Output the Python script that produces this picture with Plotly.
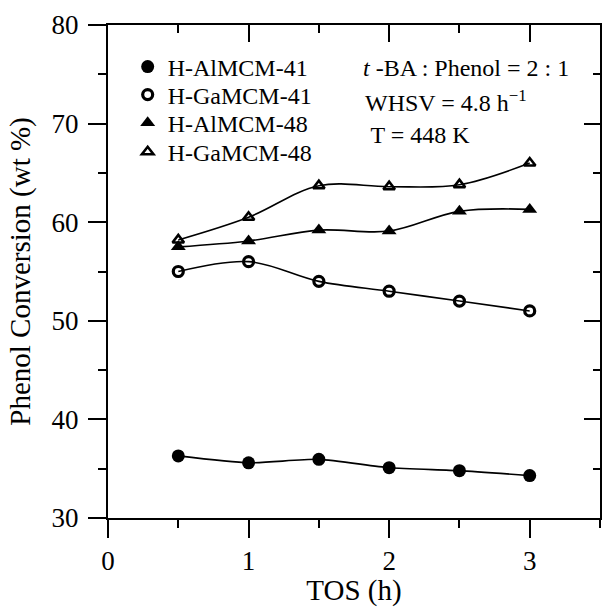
import plotly.graph_objects as go

# Time on stream (h)
tos = [0.5, 1.0, 1.5, 2.0, 2.5, 3.0]

# Phenol conversion (wt %) for each catalyst
al_mcm41 = [36.3, 35.6, 35.95, 35.1, 34.8, 34.3]
ga_mcm41 = [55.0, 56.0, 54.0, 53.0, 52.0, 51.0]
al_mcm48 = [57.5, 58.1, 59.2, 59.1, 61.1, 61.3]
ga_mcm48 = [58.2, 60.5, 63.7, 63.6, 63.8, 66.0]

names = ["H-AlMCM-41", "H-GaMCM-41", "H-AlMCM-48", "H-GaMCM-48"]
series = [al_mcm41, ga_mcm41, al_mcm48, ga_mcm48]
symbols = ["circle", "circle-open", "triangle-up", "triangle-up-open"]
sizes = [13, 10, 13, 10]
outlines = [0, 3.2, 0, 2.6]
smooth = [0.6, 1.0, 1.0, 1.0]

x_ticks = [0, 1, 2, 3]
y_ticks = [30, 40, 50, 60, 70, 80]

FONT = "Liberation Serif, Times New Roman, serif"

# one legend box per entry, stacked down the upper-left corner
legend_rows = [0.9148, 0.858, 0.801, 0.742]
legend_ids = ["legend", "legend2", "legend3", "legend4"]

fig = go.Figure()

# smooth connecting curves
for vals, sm in zip(series, smooth):
    fig.add_trace(go.Scatter(
        x=tos, y=vals, mode="lines", showlegend=False, hoverinfo="skip",
        line=dict(color="black", width=1.6, shape="spline", smoothing=sm),
    ))

# markers (also used for the legend)
for vals, name, sym, sz, ow, lg in zip(series, names, symbols, sizes,
                                       outlines, legend_ids):
    fig.add_trace(go.Scatter(
        x=tos, y=vals, mode="markers", name=name, legend=lg,
        marker=dict(symbol=sym, size=sz, color="black",
                    line=dict(color="black", width=ow)),
    ))

# invisible trace so the mirrored top/right axes get drawn
fig.add_trace(go.Scatter(x=[None], y=[None], xaxis="x2", yaxis="y2",
                         showlegend=False, hoverinfo="skip"))

axis_common = dict(
    showgrid=False, zeroline=False, showline=True, linecolor="black",
    linewidth=2, tickcolor="black", tickwidth=2,
)

legend_style = dict(
    x=0.04, xanchor="left", yanchor="middle",
    bgcolor="rgba(0,0,0,0)", font=dict(size=24, family=FONT, color="black"),
    itemwidth=30,
)

fig.update_layout(
    width=602, height=607,
    margin=dict(l=108, r=2, t=25, b=89),
    paper_bgcolor="white", plot_bgcolor="white",
    font=dict(family=FONT, color="black", size=24),
    xaxis=dict(
        range=[0, 3.5], tickvals=x_ticks, ticks="outside", ticklen=18,
        tickfont=dict(size=27),
        minor=dict(dtick=0.5, ticks="outside", ticklen=8, tickwidth=2,
                   tickcolor="black"),
        title=dict(text="TOS (h)", font=dict(size=29), standoff=4),
        **axis_common,
    ),
    yaxis=dict(
        range=[30, 80], tickvals=y_ticks, ticks="outside", ticklen=18,
        tickfont=dict(size=27),
        minor=dict(dtick=5, ticks="outside", ticklen=8, tickwidth=2,
                   tickcolor="black"),
        title=dict(text="Phenol Conversion (wt %)", font=dict(size=29),
                   standoff=12),
        ticklabelstandoff=4,
        **axis_common,
    ),
    xaxis2=dict(
        overlaying="x", side="top", range=[0, 3.5], tickvals=x_ticks,
        ticks="inside", ticklen=17, showticklabels=False,
        minor=dict(dtick=0.5, ticks="inside", ticklen=8, tickwidth=2,
                   tickcolor="black"),
        **axis_common,
    ),
    yaxis2=dict(
        overlaying="y", side="right", range=[30, 80], tickvals=y_ticks,
        ticks="inside", ticklen=16, showticklabels=False,
        minor=dict(dtick=5, ticks="inside", ticklen=7, tickwidth=2,
                   tickcolor="black"),
        **axis_common,
    ),
    legend=dict(y=legend_rows[0], **legend_style),
    legend2=dict(y=legend_rows[1], **legend_style),
    legend3=dict(y=legend_rows[2], **legend_style),
    legend4=dict(y=legend_rows[3], **legend_style),
    showlegend=True,
)

notes = [
    ("<i>t</i> -BA : Phenol = 2 : 1", 0.515, 0.912),
    ("WHSV = 4.8 h<sup>\u2212</sup><sup>1</sup>", 0.519, 0.845),
    (" T = 448 K", 0.519, 0.777),
]
for txt, xp, yp in notes:
    fig.add_annotation(
        text=txt, x=xp, y=yp, xref="paper", yref="paper",
        xanchor="left", yanchor="middle", showarrow=False,
        font=dict(size=24, family=FONT, color="black"),
    )

fig.write_html("out.html")
